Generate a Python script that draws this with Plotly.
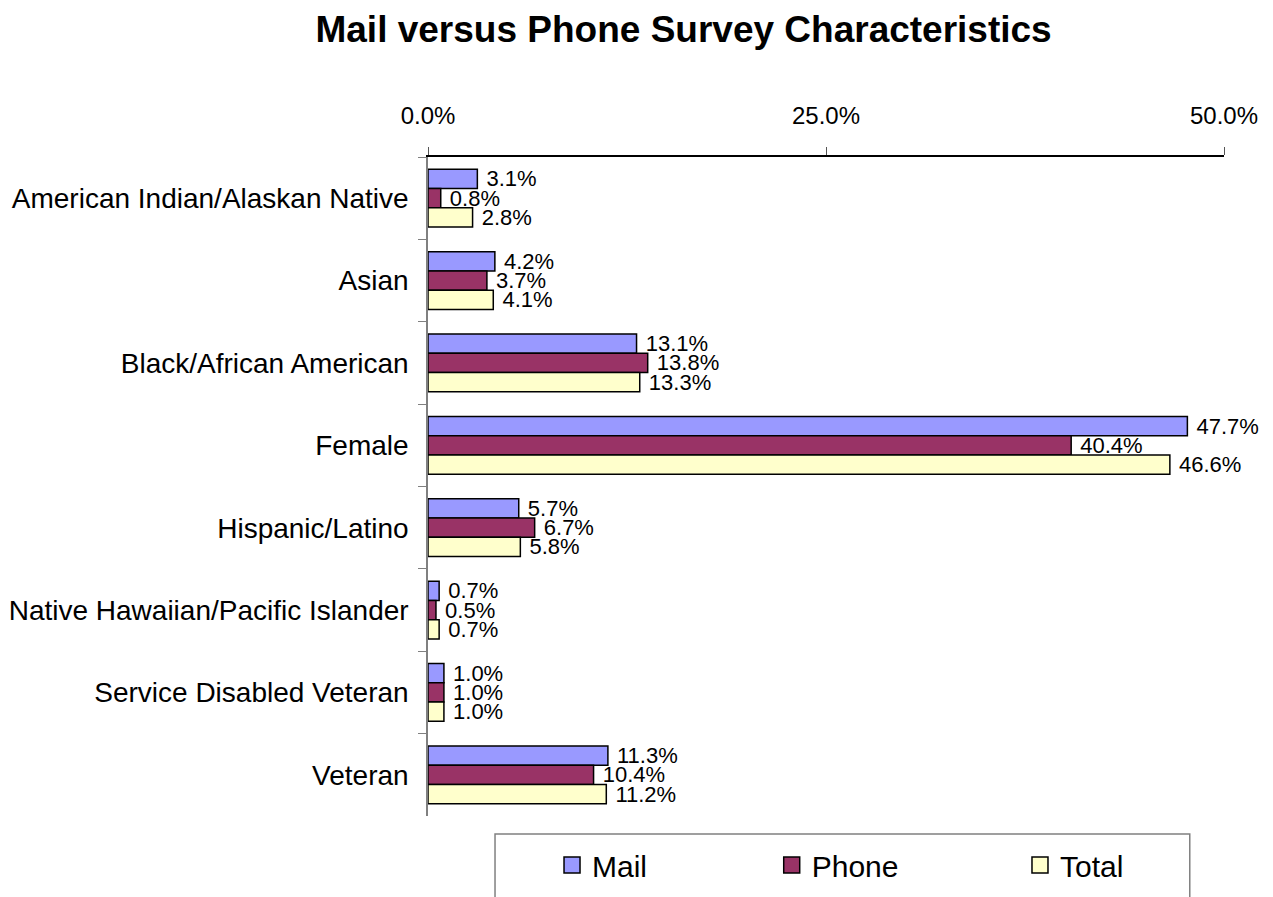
import plotly.graph_objects as go

# Survey characteristics, percent of respondents
categories = [
    "American Indian/Alaskan Native",
    "Asian",
    "Black/African American",
    "Female",
    "Hispanic/Latino",
    "Native Hawaiian/Pacific Islander",
    "Service Disabled Veteran",
    "Veteran",
]
mail = [3.1, 4.2, 13.1, 47.7, 5.7, 0.7, 1.0, 11.3]
phone = [0.8, 3.7, 13.8, 40.4, 6.7, 0.5, 1.0, 10.4]
total = [2.8, 4.1, 13.3, 46.6, 5.8, 0.7, 1.0, 11.2]

x_ticks = [0, 25, 50]

series = [
    ("Mail", mail, "#9999FF"),
    ("Phone", phone, "#993366"),
    ("Total", total, "#FFFFCC"),
]

FONT = "Arial, Liberation Sans, sans-serif"

fig = go.Figure()

legend_ids = ["legend", "legend2", "legend3"]
legend_x = [0.1558, 0.4318, 0.7437]

for (name, vals, color), lid in zip(series, legend_ids):
    fig.add_trace(go.Bar(
        name=name,
        y=categories,
        x=vals,
        orientation="h",
        marker=dict(color=color, line=dict(color="black", width=1.5)),
        texttemplate="\u00a0%{x:.1f}%",
        textposition="outside",
        textfont=dict(family=FONT, size=22, color="black"),
        constraintext="none",
        cliponaxis=False,
        showlegend=False,
        hoverinfo="skip",
    ))
    # legend swatch for the series
    fig.add_trace(go.Scatter(
        name=name,
        x=[None],
        y=[None],
        mode="markers",
        marker=dict(symbol="square", size=18, color=color,
                    line=dict(color="black", width=1.5)),
        legend=lid,
        showlegend=True,
    ))

legend_common = dict(
    orientation="h",
    yanchor="middle",
    y=-0.0744,
    xanchor="left",
    bgcolor="rgba(0,0,0,0)",
    borderwidth=0,
    font=dict(family=FONT, size=30, color="black"),
)

fig.update_layout(
    width=1273,
    height=897,
    margin=dict(l=428, r=49, t=157, b=81, autoexpand=False),
    paper_bgcolor="white",
    plot_bgcolor="white",
    barmode="group",
    bargap=0.3,
    bargroupgap=0,
    font=dict(family=FONT, color="black"),
    title=dict(
        text="<b>Mail versus Phone Survey Characteristics</b>",
        font=dict(family=FONT, size=37, color="black"),
        x=0.537,
        xanchor="center",
        y=0.968,
        yanchor="middle",
    ),
    legend=dict(x=legend_x[0], **legend_common),
    legend2=dict(x=legend_x[1], **legend_common),
    legend3=dict(x=legend_x[2], **legend_common),
    xaxis=dict(
        side="top",
        range=[0, 50],
        tickvals=x_ticks,
        ticktext=[f"{v:.1f}%" for v in x_ticks],
        ticks="outside",
        ticklen=8,
        tickcolor="#555555",
        showline=True,
        linecolor="black",
        linewidth=1.5,
        showgrid=False,
        zeroline=False,
        tickfont=dict(family=FONT, size=24, color="black"),
        ticklabelstandoff=14,
    ),
    yaxis=dict(
        type="category",
        categoryorder="array",
        categoryarray=categories,
        autorange="reversed",
        tickson="boundaries",
        ticks="outside",
        ticklen=8,
        tickcolor="#808080",
        showline=True,
        linecolor="#808080",
        linewidth=1.5,
        showgrid=False,
        zeroline=False,
        tickfont=dict(family=FONT, size=28, color="black"),
        ticklabelstandoff=12,
    ),
    shapes=[dict(
        type="rect",
        xref="paper", yref="paper",
        x0=0.0842, x1=0.957,
        y0=-0.0273, y1=-0.17,
        line=dict(color="#808080", width=1.5),
        fillcolor="rgba(0,0,0,0)",
        layer="below",
    )],
)

fig.write_html("out.html")
